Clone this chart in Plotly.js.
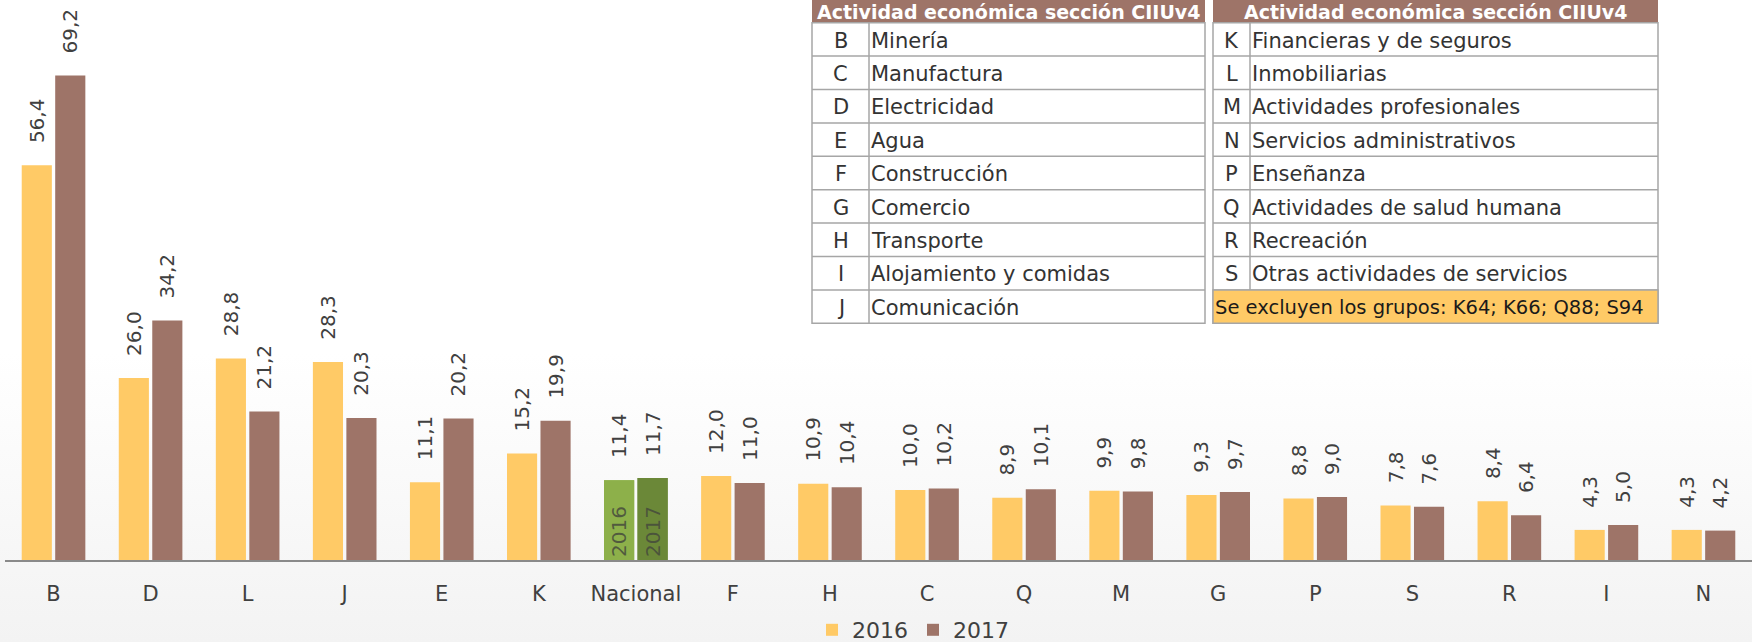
<!DOCTYPE html>
<html><head><meta charset="utf-8">
<script src="https://cdn.plot.ly/plotly-3.0.1.min.js"></script>
<style>
html,body{margin:0;padding:0;width:1752px;height:642px;overflow:hidden;
background:linear-gradient(to bottom,#ffffff 0%,#ffffff 55%,#f3f3f3 100%);}
#chart{width:1752px;height:642px;}
</style></head><body><div id="chart"></div>
<script>
// ---- data ----
const categories = ['B','D','L','J','E','K','Nacional','F','H','C','Q','M','G','P','S','R','I','N'];
const values2016 = [56.4,26.0,28.8,28.3,11.1,15.2,11.4,12.0,10.9,10.0,8.9,9.9,9.3,8.8,7.8,8.4,4.3,4.3];
const values2017 = [69.2,34.2,21.2,20.3,20.2,19.9,11.7,11.0,10.4,10.2,10.1,9.8,9.7,9.0,7.6,6.4,5.0,4.2];
const seriesNames = ['2016','2017'];
const nationalCategory = 'Nacional';
const table1Codes = ['B','C','D','E','F','G','H','I','J'];
const table1Names = ['Minería','Manufactura','Electricidad','Agua','Construcción','Comercio','Transporte','Alojamiento y comidas','Comunicación'];
const table2Codes = ['K','L','M','N','P','Q','R','S'];
const table2Names = ['Financieras y de seguros','Inmobiliarias','Actividades profesionales','Servicios administrativos','Enseñanza','Actividades de salud humana','Recreación','Otras actividades de servicios'];
const tableHeader = 'Actividad económica sección CIIUv4';
const tableNote = 'Se excluyen los grupos: K64; K66; Q88; S94';

// ---- style ----
const FONT = 'DejaVu Sans';
const TXT = '#404040';
const C16 = '#FFCA66', C17 = '#9E7468';
const G16 = '#8DB04A', G17 = '#6B8838';
const HDR = '#9E7468', GRID = '#a6a6a6';

const W = 1752, H = 642, ML = 5, MR = 0, MT = 0, MB = 82;
const PW = W - ML - MR, PH = H - MT - MB;
const px = x => (x - ML) / PW;
const py = y => (MT + PH - y) / PH;

const fmt = v => v.toFixed(1).replace('.', ',');
const pad = '\u00A0\u00A0\u00A0';
const nIdx = categories.indexOf(nationalCategory);

const traces = [
  {type:'bar', name:seriesNames[0], x:categories, y:values2016, offsetgroup:'a',
   marker:{color:categories.map(c => c === nationalCategory ? G16 : C16)},
   text:values2016.map(v => pad + fmt(v)), textposition:'outside', textangle:-90,
   constraintext:'none', cliponaxis:false,
   textfont:{family:FONT, size:20, color:TXT}, hoverinfo:'x+y'},
  {type:'bar', name:seriesNames[1], x:categories, y:values2017, offsetgroup:'b',
   marker:{color:categories.map(c => c === nationalCategory ? G17 : C17)},
   text:values2017.map(v => pad + fmt(v)), textposition:'outside', textangle:-90,
   constraintext:'none', cliponaxis:false,
   textfont:{family:FONT, size:20, color:TXT}, hoverinfo:'x+y'},
  {type:'bar', name:seriesNames[0], x:[nationalCategory], y:[values2016[nIdx]], offsetgroup:'a',
   marker:{color:G16}, text:[seriesNames[0]], textposition:'inside', insidetextanchor:'start',
   textangle:-90, constraintext:'none', showlegend:false, hoverinfo:'skip',
   textfont:{family:FONT, size:20, color:'rgba(70,75,60,0.85)'}},
  {type:'bar', name:seriesNames[1], x:[nationalCategory], y:[values2017[nIdx]], offsetgroup:'b',
   marker:{color:G17}, text:[seriesNames[1]], textposition:'inside', insidetextanchor:'start',
   textangle:-90, constraintext:'none', showlegend:false, hoverinfo:'skip',
   textfont:{family:FONT, size:20, color:'rgba(70,75,60,0.85)'}}
];

// ---- tables (shapes + annotations) ----
const HB = 22.7, RH = 33.4, HTOP = -20;
const shapes = [], annotations = [];
function hline(x0, x1, y) {
  shapes.push({type:'line', xref:'paper', yref:'paper', x0:px(x0), x1:px(x1), y0:py(y), y1:py(y),
               line:{color:GRID, width:1.5}});
}
function vline(x, y0, y1) {
  shapes.push({type:'line', xref:'paper', yref:'paper', x0:px(x), x1:px(x), y0:py(y0), y1:py(y1),
               line:{color:GRID, width:1.5}});
}
function buildTable(x0, xDiv, x1, codes, names, note) {
  const nRows = 9;
  shapes.push({type:'rect', xref:'paper', yref:'paper', x0:px(x0), x1:px(x1), y0:py(HTOP), y1:py(HB),
               fillcolor:HDR, line:{width:0}});
  shapes.push({type:'rect', xref:'paper', yref:'paper', x0:px(x0), x1:px(x1), y0:py(HB), y1:py(HB + nRows*RH),
               fillcolor:'#ffffff', line:{color:GRID, width:1.5}});
  for (let k = 1; k < nRows; k++) hline(x0, x1, HB + k*RH);
  vline(xDiv, HB, HB + codes.length*RH);
  annotations.push({xref:'paper', yref:'paper', x:px((x0 + x1)/2), y:py(11.5), xanchor:'center', yanchor:'middle',
    text:tableHeader, showarrow:false, font:{family:FONT, size:19, color:'#ffffff', weight:'bold'}});
  codes.forEach((c, i) => {
    const yc = HB + RH*(i + 0.5) + 1.2;
    annotations.push({xref:'paper', yref:'paper', x:px((x0 + xDiv)/2), y:py(yc), xanchor:'center', yanchor:'middle',
      text:c, showarrow:false, font:{family:FONT, size:21, color:'#333333'}});
    annotations.push({xref:'paper', yref:'paper', x:px(xDiv), y:py(yc), xanchor:'left', yanchor:'middle',
      text:names[i], showarrow:false, font:{family:FONT, size:21, color:'#333333'}});
  });
  if (note) {
    const yTop = HB + codes.length*RH;
    shapes.push({type:'rect', xref:'paper', yref:'paper', x0:px(x0), x1:px(x1), y0:py(yTop), y1:py(yTop + RH),
                 fillcolor:C16, line:{color:GRID, width:1.5}});
    annotations.push({xref:'paper', yref:'paper', x:px(x0), y:py(yTop + RH/2 + 1.2), xanchor:'left', yanchor:'middle',
      text:note, showarrow:false, font:{family:FONT, size:19.5, color:'#1a1a1a'}});
  }
}
buildTable(812, 869, 1205, table1Codes, table1Names, null);
buildTable(1213, 1250, 1658, table2Codes, table2Names, tableNote);

const layout = {
  width:W, height:H, margin:{l:ML, r:MR, t:MT, b:MB, pad:0},
  paper_bgcolor:'rgba(0,0,0,0)', plot_bgcolor:'rgba(0,0,0,0)',
  barmode:'group', bargap:0.31, bargroupgap:0.1,
  font:{family:FONT, color:TXT},
  xaxis:{type:'category', range:[-0.5, categories.length - 0.5], showline:true, linecolor:'#8a8a8a', linewidth:2,
         ticks:'', showgrid:false, zeroline:false, ticklabelstandoff:14,
         tickfont:{family:FONT, size:21, color:TXT}, fixedrange:true},
  yaxis:{range:[0, 80], visible:false, fixedrange:true},
  showlegend:true,
  legend:{orientation:'h', xref:'paper', yref:'container', x:px(812), xanchor:'left', y:(H - 630)/H, yanchor:'middle',
          font:{family:FONT, size:22, color:TXT}, bgcolor:'rgba(0,0,0,0)', traceorder:'normal'},
  shapes:shapes, annotations:annotations
};
Plotly.newPlot('chart', traces, layout, {displayModeBar:false, staticPlot:true});
</script></body></html>
